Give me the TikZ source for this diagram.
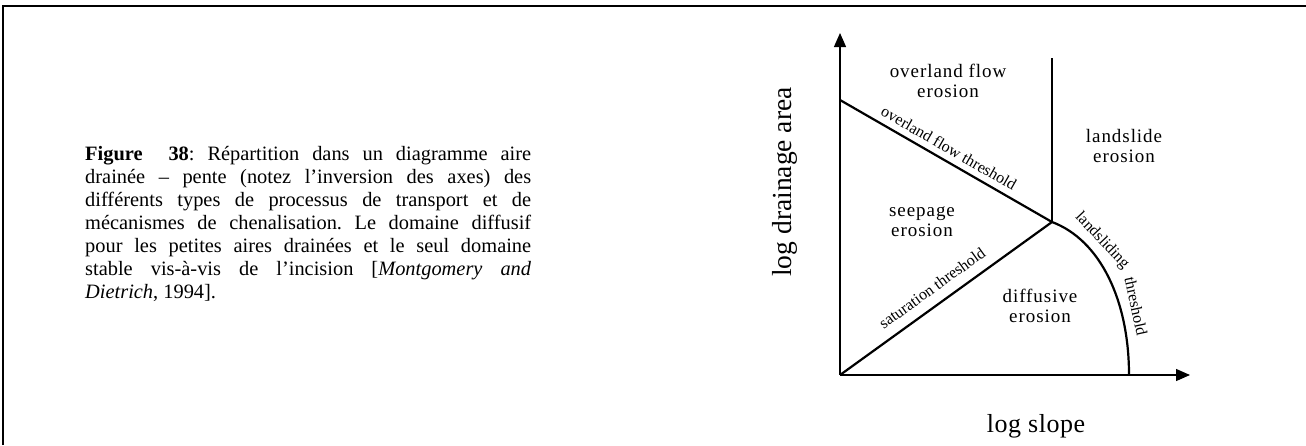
\documentclass[tikz,border=0pt]{standalone}
\usepackage{fontspec}
\setmainfont{Liberation Serif}
\usetikzlibrary{arrows.meta}
\frenchspacing
\begin{document}
\begin{tikzpicture}[x=1pt,y=-1pt,
  frameline/.style={line width=2.2pt},
  axisline/.style={line width=1.3pt,-{Triangle[length=14pt,width=12pt]}},
  thr/.style={line width=2.2pt},
  region/.style={font=\fontsize{19}{20}\selectfont\addfontfeatures{LetterSpace=5},align=center,inner sep=0pt},
  thrlabel/.style={font=\fontsize{16}{18}\selectfont,inner sep=0pt},
  axlabel/.style={inner sep=0pt}]
\useasboundingbox (0,0) rectangle (1306,445);
% frame
\draw[frameline] (2.7,445) -- (2.7,6) -- (1306,6);
% caption
\node[anchor=base west,inner sep=0pt] (cap) at (85,160) {\parbox[t]{446pt}{\fontsize{20.4}{23}\selectfont\frenchspacing
\makebox[446pt][s]{\textbf{Figure\ \ 38}: Répartition dans un diagramme aire}\\
\makebox[446pt][s]{drainée – pente (notez l’inversion des axes) des}\\
\makebox[446pt][s]{différents types de processus de transport et de}\\
\makebox[446pt][s]{mécanismes de chenalisation. Le domaine diffusif}\\
\makebox[446pt][s]{pour les petites aires drainées et le seul domaine}\\
\makebox[446pt][s]{stable vis-à-vis de l’incision [\textit{Montgomery and}}\\
\textit{Dietrich}, 1994].}};
% key points
\coordinate (O) at (840,375);
\coordinate (Ytip) at (840,33);
\coordinate (Xtip) at (1190,375);
\coordinate (A) at (840,100);
\coordinate (J) at (1052,222);
\coordinate (T) at (1052,58);
\coordinate (L) at (1129,375);
% axes
\draw[axisline] (O) -- (Ytip);
\draw[axisline] (O) -- (Xtip);
% thresholds
\draw[thr] (A) -- (J);
\draw[thr] (O) -- (J);
\draw[line width=1.6pt] (J) -- (T);
\draw[thr] (J) .. controls (1100,240) and (1129,300) .. (L);
% region labels
\node[region] (ovl) at (948,83) {\strut overland flow\\\strut erosion};
\node[region] (lsl) at (1124,148) {\strut landslide\\\strut erosion};
\node[region] (sep) at (922,222) {\strut seepage\\\strut erosion};
\node[region] (dif) at (1040,308) {\strut diffusive\\\strut erosion};
% threshold labels
\node[thrlabel,rotate=-29.9] (ovt) at (949,148) {overland flow threshold};
\node[thrlabel,rotate=35.8] (sat) at (932,288) {saturation threshold};
\node[thrlabel,rotate=-46.7] (lsd) at (1102,241) {landsliding};
\node[thrlabel,rotate=-77.8] (lst) at (1136,306) {threshold};
% axis labels
\node[axlabel,rotate=90,font=\fontsize{27.5}{30}\selectfont] (ylab) at (785,182) {log drainage area};
\node[axlabel,anchor=base,font=\fontsize{26}{30}\selectfont\addfontfeatures{LetterSpace=2}] (xlab) at (1036,432) {log slope};
\end{tikzpicture}
\end{document}
